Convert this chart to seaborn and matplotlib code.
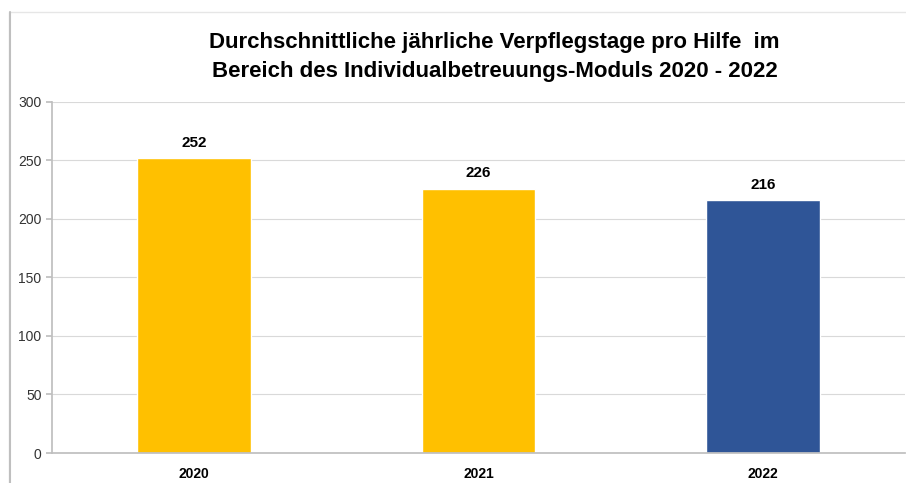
import matplotlib
matplotlib.use("Agg")
import matplotlib.pyplot as plt
import pandas as pd
import seaborn as sns
from matplotlib.patches import Rectangle

years = ["2020", "2021", "2022"]
tage = [252, 226, 216]
bar_colors = ["#FFC000", "#FFC000", "#2F5597"]
title = ("Durchschnittliche jährliche Verpflegstage pro Hilfe  im\n"
         "Bereich des Individualbetreuungs-Moduls 2020 - 2022")

sns.set_theme(style="white")
plt.rcParams["font.family"] = ["Liberation Sans", "DejaVu Sans"]

df = pd.DataFrame({"Jahr": years, "Tage": tage})

fig = plt.figure(figsize=(9.06, 4.83), dpi=100)
ax = fig.add_axes([0.0574, 0.0621, 0.9416, 0.7269])

sns.barplot(data=df, x="Jahr", y="Tage", hue="Jahr", palette=bar_colors,
            width=0.4, saturation=1, legend=False, ax=ax)

ax.set_ylim(0, 300)
ax.set_xlim(-0.5, 2.5)
ax.set_yticks(range(0, 301, 50))
ax.yaxis.grid(True, color="#d9d9d9", linewidth=0.8)
ax.set_axisbelow(True)
ax.set_xlabel("")
ax.set_ylabel("")

for side in ["top", "right"]:
    ax.spines[side].set_visible(False)
ax.spines["left"].set_color("#bfbfbf")
ax.spines["bottom"].set_color("#bfbfbf")
ax.tick_params(axis="y", left=True, length=4, color="#bfbfbf",
               labelsize=10, labelcolor="#333333")
ax.tick_params(axis="x", bottom=False, labelsize=10, pad=4, labelcolor="black")
for lbl in ax.get_xticklabels():
    lbl.set_fontweight("bold")

for cont in ax.containers:
    ax.bar_label(cont, fmt="%d", padding=6, fontsize=11, fontweight="bold",
                 color="black")

fig.text(0.546, 0.882, title, ha="center", va="center", fontsize=16,
         fontweight="bold", linespacing=1.55, color="black")

# outer chart frame
fig.patches.append(Rectangle((0.0099, -0.01), 1.0, 0.985, transform=fig.transFigure,
                             fill=False, edgecolor="#e6e6e6", linewidth=1))
fig.add_artist(plt.Line2D([0.0105, 0.0105], [0, 0.975], transform=fig.transFigure,
                          color="#bfbfbf", linewidth=1.5))

fig.savefig("out.png", dpi=100)
